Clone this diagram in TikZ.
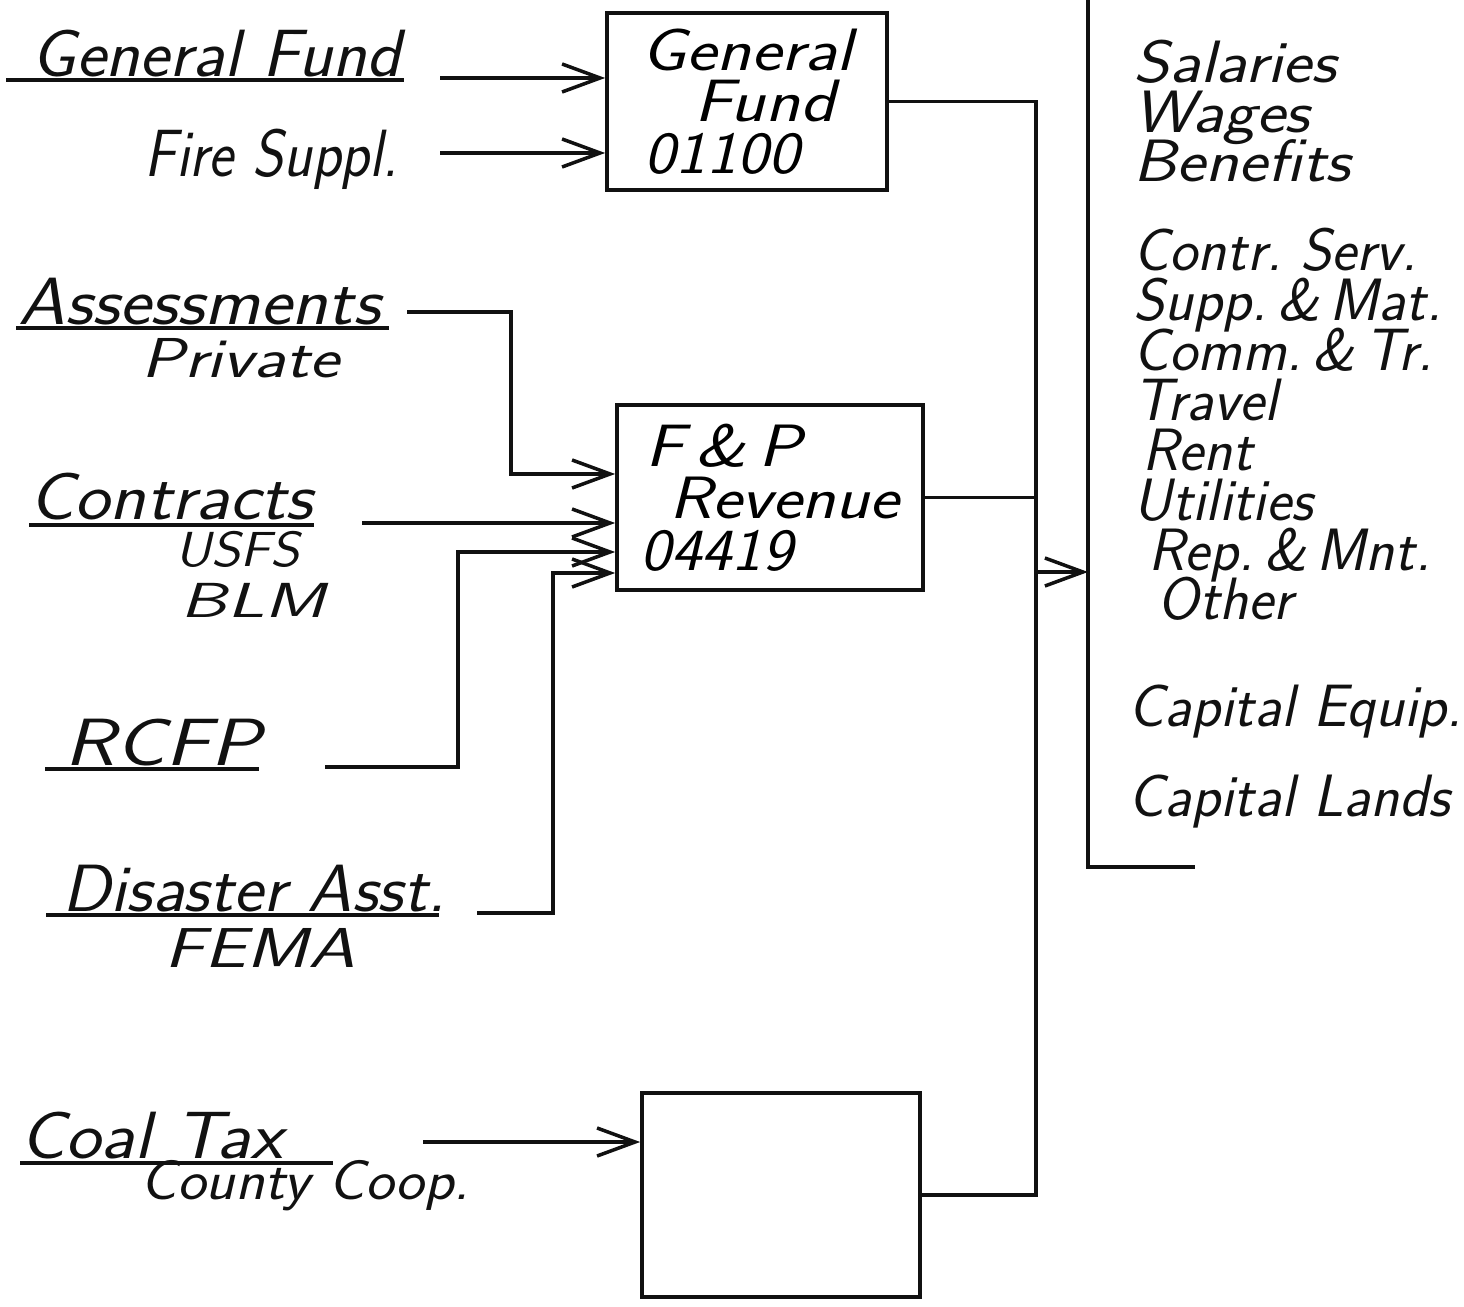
\documentclass[tikz,border=0pt]{standalone}
\usepackage{tikz}
\usetikzlibrary{arrows.meta,positioning}
\definecolor{ink}{HTML}{111111}
\definecolor{paper}{HTML}{FFFFFF}
\newcommand{\handfont}{\sffamily\itshape\fontsize{19}{16}\selectfont}
\newcommand{\subfont}{\sffamily\itshape\fontsize{16}{14}\selectfont}
\newcommand{\colfont}{\sffamily\itshape\fontsize{17}{14.2}\selectfont\lineskiplimit=-20pt}
\newcommand{\boxfont}{\sffamily\itshape\fontsize{17}{14.6}\selectfont\lineskiplimit=-20pt}
\newcommand{\fpboxfont}{\sffamily\itshape\fontsize{17}{14.8}\selectfont\lineskiplimit=-20pt}
\newcommand{\hwide}[2]{\scalebox{#1}[1]{#2}}
\tikzset{
  fundbox/.style={draw=ink,fill=paper,line width=1pt,
                  align=left,font=\boxfont,inner sep=0pt},
  srclabel/.style={font=\handfont,text=ink,inner sep=0pt,anchor=base west},
  sublabel/.style={srclabel,font=\subfont},
  uselabel/.style={font=\colfont,text=ink,inner sep=0pt,anchor=base west,align=left},
  uline/.style={draw=ink,line width=1pt},
  busline/.style={draw=ink,line width=0.9pt},
  flowarr/.style={-{Straight Barb[length=3.8mm,width=2.8mm,line width=1pt]},
                  line width=1pt,color=ink}
}

\begin{document}
\begin{tikzpicture}[x=0.01cm,y=-0.01cm,>=Latex]
  \useasboundingbox (0,0) rectangle (1464,1307);
  % fund boxes
  \node[fundbox,minimum width=2.80cm,minimum height=1.77cm] (gfbox) at (747,101.5)
    {\hwide{1.2}{General}\\\hspace*{0.88em}\hwide{1.2}{Fund}\\\hspace*{0.05em}\hwide{1.1}{01100}};
  \node[fundbox,minimum width=3.06cm,minimum height=1.85cm,font=\fpboxfont] (fpbox) at (770,497.5)
    {\hspace*{0.08em}\hwide{1.2}{F\,\&\,P}\\\hspace*{0.48em}\hwide{1.18}{Revenue}\\\hwide{1.08}{04419}};
  \node[fundbox,minimum width=2.78cm,minimum height=2.04cm] (ctbox) at (781,1195) {};

  % sources
  \node[srclabel] (gfsrc) at (31,77) {\hwide{1.06}{General Fund}};
  \node[srclabel] (fssrc) at (144,177) {\hwide{0.89}{Fire Suppl.}};
  \node[srclabel] (assrc) at (18,325) {\hwide{1.12}{Assessments}};
  \node[sublabel] (prsrc) at (141,378) {\hwide{1.26}{Private}};
  \node[srclabel] (cnsrc) at (29,520) {\hwide{1.12}{Contracts}};
  \node[sublabel,font=\sffamily\itshape\fontsize{14}{14}\selectfont] (ussrc) at (175,567) {\hwide{1.09}{USFS}};
  \node[sublabel,font=\sffamily\itshape\fontsize{14}{14}\selectfont] (blsrc) at (180,618) {\hwide{1.45}{BLM}};
  \node[srclabel] (rcsrc) at (64,765) {\hwide{1.25}{RCFP}};
  \node[srclabel] (dasrc) at (62,911) {\hwide{1.06}{Disaster Asst.}};
  \node[sublabel] (fesrc) at (164,967) {\hwide{1.33}{FEMA}};
  \node[srclabel] (cosrc) at (20,1158) {\hwide{1.12}{Coal Tax}};
  \node[sublabel] (ccsrc) at (140,1199) {\hwide{1.08}{County Coop.}};
  \draw[uline] (6,80) -- (404,80);
  \draw[uline] (16,328) -- (389,328);
  \draw[uline] (29,525) -- (314,525);
  \draw[uline] (45,769) -- (259,769);
  \draw[uline] (46,915) -- (439,915);
  \draw[uline] (20,1163) -- (333,1163);

  % feeders
  \coordinate (gfin) at (440,78);
  \coordinate (fsin) at (440,153);
  \draw[flowarr] (gfin) -- (gfin -| gfbox.west);
  \draw[flowarr] (fsin) -- (fsin -| gfbox.west);
  \coordinate (asout) at (407,312);
  \coordinate (asdrop) at (511,474);
  \draw[flowarr] (asout) -| (asdrop) -- (asdrop -| fpbox.west);
  \coordinate (cnout) at (362,523);
  \draw[flowarr] (cnout) -- (cnout -| fpbox.west);
  \coordinate (rcout) at (325,767);
  \coordinate (rcrise) at (458,552);
  \draw[flowarr] (rcout) -| (rcrise) -- (rcrise -| fpbox.west);
  \coordinate (daout) at (477,913);
  \coordinate (darise) at (553,573);
  \draw[flowarr] (daout) -| (darise) -- (darise -| fpbox.west);
  \coordinate (coin) at (423,1142);
  \draw[flowarr] (coin) -- (coin -| ctbox.west);

  % collector bus
  \coordinate (busx) at (1036,0);
  \draw[busline] (gfbox.east) -| (ctbox.east -| busx) -- (ctbox.east);
  \draw[busline] (fpbox.east) -- (fpbox.east -| busx);
  \coordinate (brtop) at (1088,0);
  \coordinate (brbot) at (1088,867);
  \coordinate (busout) at (1036,572);
  \draw[flowarr] (busout) -- (busout -| brtop);
  \draw[busline] (brtop) -- (brbot) -- ++(107,0);

  % expenditure classes
  \node[uselabel] (pers) at (1133,182)
    {\hwide{1.15}{Salaries}\\\hwide{1.15}{Wages}\\\hwide{1.15}{Benefits}};
  \node[uselabel] (oper) at (1133,620)
    {Contr.\ Serv.\\Supp.\,\&\,Mat.\\Comm.\,\&\,Tr.\\Travel\\\hspace*{0.15em}Rent\\Utilities\\\hspace*{0.25em}Rep.\,\&\,Mnt.\\\hspace*{0.4em}Other};
  \node[uselabel] (equip) at (1128,727) {Capital Equip.};
  \node[uselabel] (lands) at (1128,817) {Capital Lands};
\end{tikzpicture}
\end{document}
